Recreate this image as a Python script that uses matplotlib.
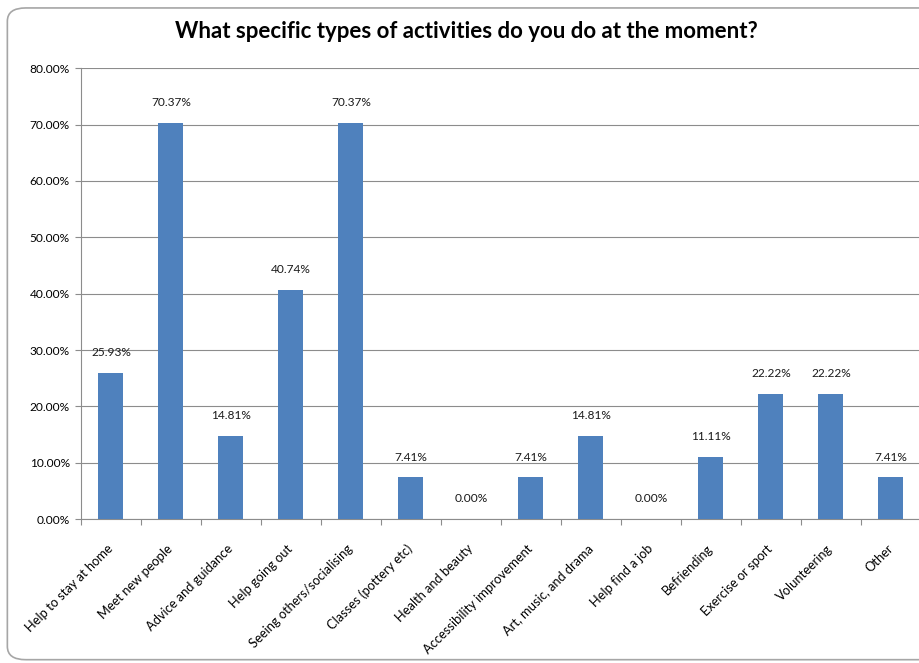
import matplotlib
matplotlib.use("Agg")
import matplotlib.pyplot as plt
from matplotlib.patches import FancyBboxPatch
from matplotlib.ticker import FuncFormatter, MultipleLocator
import numpy as np

plt.rcParams['font.family'] = ['Lato', 'DejaVu Sans']

categories = [
    "Help to stay at home", "Meet new people", "Advice and guidance",
    "Help going out", "Seeing others/socialising", "Classes (pottery etc)",
    "Health and beauty", "Accessibility improvement", "Art, music, and drama",
    "Help find a job", "Befriending", "Exercise or sport", "Volunteering", "Other",
]
percentages = [25.93, 70.37, 14.81, 40.74, 70.37, 7.41, 0.00,
               7.41, 14.81, 0.00, 11.11, 22.22, 22.22, 7.41]
title = "What specific types of activities do you do at the moment?"

fig = plt.figure(figsize=(9.19, 6.63), dpi=100)

# rounded chart-area frame
frame = FancyBboxPatch((0.008, 0.005), 1.05, 0.983, transform=fig.transFigure,
                       boxstyle="round,pad=0,rounding_size=0.02",
                       facecolor="none", edgecolor="#a6a6a6", linewidth=1.2,
                       zorder=-1)
fig.patches.append(frame)

ax = fig.add_axes([0.088, 0.217, 0.914, 0.68])
ax.set_facecolor("none")

x = np.arange(len(categories))
bars = ax.bar(x, percentages, width=0.42, color="#4f81bd", zorder=3)

for xi, v in zip(x, percentages):
    ax.text(xi, v + 3.6, f"{v:.2f}%", ha="center", va="center",
            fontsize=8.6, color="#1a1a1a")

ax.set_xlim(-0.5, len(categories) - 0.5)
ax.set_ylim(0, 80)
ax.yaxis.set_major_locator(MultipleLocator(10))
ax.yaxis.set_major_formatter(FuncFormatter(lambda v, _: f"{v:.2f}%"))
ax.grid(axis="y", color="#8c8c8c", linewidth=0.8, zorder=0)

ax.set_xticks(np.arange(len(categories) + 1) - 0.5, minor=False)
ax.set_xticklabels([])
ax.set_xticks(x, minor=True)
ax.set_xticklabels(categories, minor=True, rotation=45, ha="right", va="center",
                   rotation_mode="anchor", fontsize=9.3)
ax.tick_params(axis="x", which="minor", length=0, pad=20)
ax.tick_params(axis="x", which="major", length=4, color="#8c8c8c", direction="out")
ax.tick_params(axis="y", length=4, color="#8c8c8c", labelsize=8.6, pad=4)

for side in ["top", "right"]:
    ax.spines[side].set_visible(False)
for side in ["left", "bottom"]:
    ax.spines[side].set_color("#8c8c8c")
    ax.spines[side].set_linewidth(0.8)

fig.text(0.508, 0.952, title, ha="center", va="center",
         fontsize=16, fontweight="bold")

fig.savefig("out.png", dpi=100)
